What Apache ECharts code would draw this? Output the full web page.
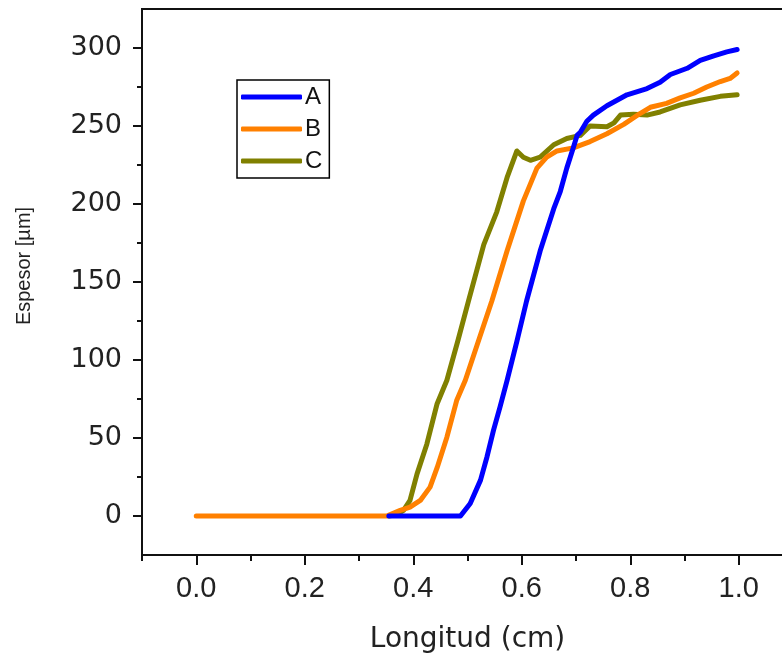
<!DOCTYPE html>
<html><head><meta charset="utf-8">
<script src="https://cdn.jsdelivr.net/npm/echarts@6/dist/echarts.min.js"></script>
<style>html,body{margin:0;padding:0;background:#fff}#c{width:782px;height:660px}</style>
</head><body><div id="c"></div>
<script>
const seriesNames = ['A', 'B', 'C'];
const seriesColors = ['#0000FF', '#FF8000', '#808000'];

const xA = [0.355,0.487,0.505,0.524,0.536,0.548,0.560,0.573,0.591,0.609,0.634,0.659,0.671,0.683,0.695,0.702,0.708,0.720,0.732,0.757,0.794,0.831,0.855,0.874,0.905,0.929,0.954,0.978,0.997];
const yA = [0,0,8,23,38,55,70,87,112,138,170,197,208,223,236,244,246,253,257,263,270,274,278,283,287,292,295,297.5,299];

const xB = [0,0.351,0.376,0.394,0.413,0.431,0.444,0.462,0.480,0.496,0.520,0.545,0.573,0.603,0.628,0.646,0.665,0.695,0.726,0.757,0.788,0.818,0.837,0.867,0.892,0.917,0.941,0.966,0.984,0.997];
const yB = [0,0,3.6,5.7,10,18.5,31,50.5,74,87,112,138,170,202,223,230,234,236,240,245,251,258,262,264.5,268,271,275,278.5,280.5,284];

const xC = [0.355,0.370,0.382,0.394,0.407,0.425,0.444,0.462,0.482,0.502,0.530,0.554,0.573,0.591,0.603,0.616,0.634,0.659,0.683,0.708,0.726,0.757,0.770,0.782,0.806,0.831,0.855,0.892,0.929,0.966,0.997];
const yC = [0,1,3.6,10,27,46,72,87,112,138,174,195,217,234,230,228,230,238,242,244,250,249.5,252,257,257.5,257,259,263.5,266.5,269,270];

const xTickValues = [0, 0.2, 0.4, 0.6, 0.8, 1.0];
const xMinorTickValues = [-0.1, 0.1, 0.3, 0.5, 0.7, 0.9, 1.1];
const yTickValues = [0, 50, 100, 150, 200, 250, 300];
const yMinorTickValues = [25, 75, 125, 175, 225, 275];

const xName = 'Longitud (cm)';
const yName = 'Espesor [\u00b5m]';

const zip = (xs, ys) => xs.map((x, i) => [x, ys[i]]);
const seriesData = [zip(xA, yA), zip(xB, yB), zip(xC, yC)];

const chart = echarts.init(document.getElementById('c'), null, {renderer: 'canvas'});
const axisCol = '#111';
chart.setOption({
  animation: false,
  backgroundColor: '#fff',
  grid: {left: 142, top: 9, width: 651, bottom: 105, containLabel: false, outerBoundsMode: 'none',
         show: true, borderColor: axisCol, borderWidth: 2, backgroundColor: 'transparent'},
  legend: {
    orient: 'vertical', left: 237, top: 80, data: seriesNames,
    icon: 'roundRect',
    itemWidth: 61, itemHeight: 5, itemGap: 8, padding: [5, 7, 5, 4],
    borderColor: '#000', borderWidth: 1.5, borderRadius: 0,
    textStyle: {fontSize: 24, fontFamily: 'Liberation Sans', color: '#111', lineHeight: 24, padding: [0, 0, 0, -2]}
  },
  xAxis: [{
    type: 'value', min: -0.1, max: 1.1, position: 'bottom',
    name: xName, nameLocation: 'middle', nameGap: 71,
    nameTextStyle: {fontSize: 28, fontFamily: 'DejaVu Sans', color: '#222'},
    axisLine: {show: true, onZero: false, lineStyle: {color: axisCol, width: 2}},
    axisTick: {show: true, inside: false, length: 10, customValues: xTickValues, lineStyle: {color: axisCol, width: 2}},
    axisLabel: {show: true, customValues: xTickValues, margin: 19, fontSize: 29, fontFamily: 'Liberation Sans', color: '#222', formatter: v => v.toFixed(1)},
    splitLine: {show: false}
  }, {
    type: 'value', min: -0.1, max: 1.1, position: 'bottom', gridIndex: 0,
    axisLine: {show: false, onZero: false},
    axisTick: {show: true, inside: false, length: 6, customValues: xMinorTickValues, lineStyle: {color: axisCol, width: 2}},
    axisLabel: {show: false},
    splitLine: {show: false}
  }],
  yAxis: [{
    type: 'value', min: -25, max: 325, position: 'left',
    name: yName, nameLocation: 'middle', nameGap: 108, nameRotate: 90,
    nameTextStyle: {fontSize: 20, fontFamily: 'Liberation Sans', color: '#222', padding: [0, 0, 0, 32]},
    axisLine: {show: true, onZero: false, lineStyle: {color: axisCol, width: 2}},
    axisTick: {show: true, inside: false, length: 9, customValues: yTickValues, lineStyle: {color: axisCol, width: 2}},
    axisLabel: {show: true, customValues: yTickValues, margin: 20, fontSize: 27, fontFamily: 'DejaVu Sans', color: '#222'},
    splitLine: {show: false}
  }, {
    type: 'value', min: -25, max: 325, position: 'left', gridIndex: 0,
    axisLine: {show: false, onZero: false},
    axisTick: {show: true, inside: false, length: 5, customValues: yMinorTickValues, lineStyle: {color: axisCol, width: 2}},
    axisLabel: {show: false},
    splitLine: {show: false}
  }],
  series: seriesNames.map((n, i) => ({
    name: n, type: 'line', data: seriesData[i], symbol: 'none', showSymbol: false,
    xAxisIndex: 0, yAxisIndex: 0, z: 4 - i,
    color: seriesColors[i],
    lineStyle: {color: seriesColors[i], width: 5, cap: 'round', join: 'round'}
  }))
});
</script></body></html>
